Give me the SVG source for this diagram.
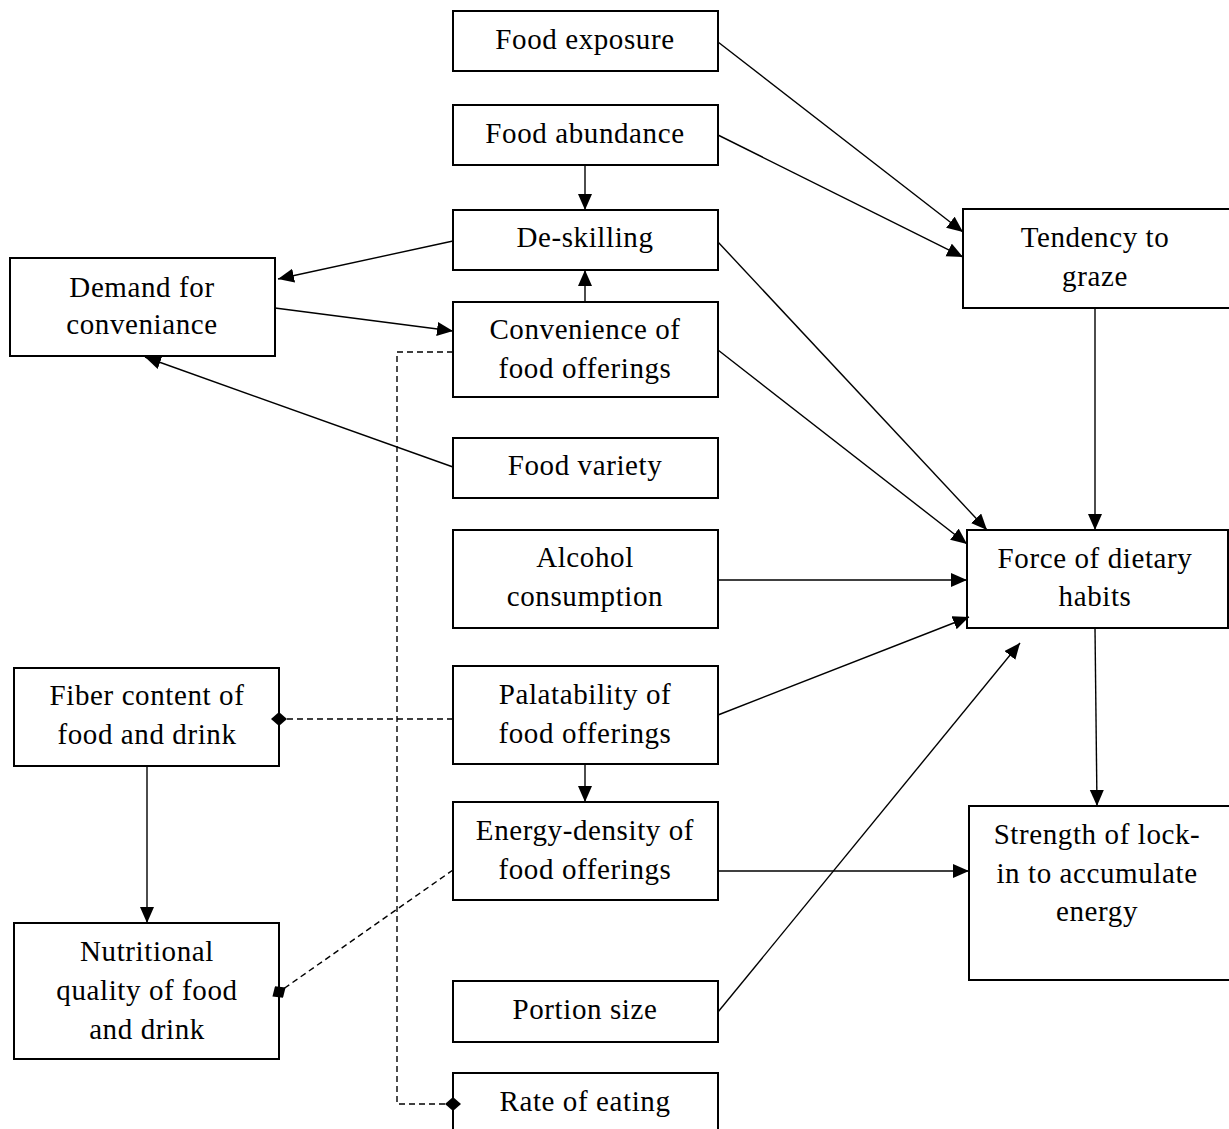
<svg xmlns="http://www.w3.org/2000/svg" width="1229" height="1129" viewBox="0 0 1229 1129">
<style>
.box{fill:#fff;stroke:#000;stroke-width:2}
.lbl{font-family:"Liberation Serif","Times New Roman",serif;font-size:29px;letter-spacing:0.6px;fill:#000;text-anchor:middle}
.c{fill:none;stroke:#000;stroke-width:1.4}
.d{fill:none;stroke:#000;stroke-width:1.4;stroke-dasharray:6 4}
</style>
<defs>
<marker id="arr" markerUnits="userSpaceOnUse" markerWidth="17" markerHeight="15" refX="16" refY="7" orient="auto"><path d="M0,0 L16,7 L0,14 z" fill="#000"/></marker>
<marker id="dia" markerUnits="userSpaceOnUse" markerWidth="17" markerHeight="14" refX="8" refY="7" orient="auto"><path d="M0,7 L8,0 L16,7 L8,14 z" fill="#000"/></marker>
</defs>
<rect width="1229" height="1129" fill="#fff"/>
<g id="food-exposure"><rect class="box" x="453" y="11" width="265" height="60"/><text class="lbl" x="585" y="49">Food exposure</text></g>
<g id="food-abundance"><rect class="box" x="453" y="105" width="265" height="60"/><text class="lbl" x="585" y="143">Food abundance</text></g>
<g id="de-skilling"><rect class="box" x="453" y="210" width="265" height="60"/><text class="lbl" x="585" y="247">De-skilling</text></g>
<g id="convenience"><rect class="box" x="453" y="302" width="265" height="95"/><text class="lbl" x="585" y="339">Convenience of</text><text class="lbl" x="585" y="378">food offerings</text></g>
<g id="food-variety"><rect class="box" x="453" y="438" width="265" height="60"/><text class="lbl" x="585" y="475">Food variety</text></g>
<g id="alcohol"><rect class="box" x="453" y="530" width="265" height="98"/><text class="lbl" x="585" y="567">Alcohol</text><text class="lbl" x="585" y="606">consumption</text></g>
<g id="palatability"><rect class="box" x="453" y="666" width="265" height="98"/><text class="lbl" x="585" y="704">Palatability of</text><text class="lbl" x="585" y="743">food offerings</text></g>
<g id="energy-density"><rect class="box" x="453" y="802" width="265" height="98"/><text class="lbl" x="585" y="840">Energy-density of</text><text class="lbl" x="585" y="879">food offerings</text></g>
<g id="portion-size"><rect class="box" x="453" y="981" width="265" height="61"/><text class="lbl" x="585" y="1019">Portion size</text></g>
<g id="rate-of-eating"><rect class="box" x="453" y="1073" width="265" height="70"/><text class="lbl" x="585" y="1111">Rate of eating</text></g>
<g id="demand"><rect class="box" x="10" y="258" width="265" height="98"/><text class="lbl" x="142" y="297">Demand for</text><text class="lbl" x="142" y="334">conveniance</text></g>
<g id="fiber"><rect class="box" x="14" y="668" width="265" height="98"/><text class="lbl" x="147" y="705">Fiber content of</text><text class="lbl" x="147" y="744">food and drink</text></g>
<g id="nutritional"><rect class="box" x="14" y="923" width="265" height="136"/><text class="lbl" x="147" y="961">Nutritional</text><text class="lbl" x="147" y="1000">quality of food</text><text class="lbl" x="147" y="1039">and drink</text></g>
<g id="tendency"><rect class="box" x="963" y="209" width="270" height="99"/><text class="lbl" x="1095" y="247">Tendency to</text><text class="lbl" x="1095" y="286">graze</text></g>
<g id="force"><rect class="box" x="967" y="530" width="261" height="98"/><text class="lbl" x="1095" y="568">Force of dietary</text><text class="lbl" x="1095" y="606">habits</text></g>
<g id="strength"><rect class="box" x="969" y="806" width="264" height="174"/><text class="lbl" x="1097" y="844">Strength of lock-</text><text class="lbl" x="1097" y="883">in to accumulate</text><text class="lbl" x="1097" y="921">energy</text></g>
<g id="connectors">
<line class="c" x1="718" y1="42" x2="963" y2="232" marker-end="url(#arr)"/>
<line class="c" x1="718" y1="135" x2="963" y2="257" marker-end="url(#arr)"/>
<line class="c" x1="585" y1="165" x2="585" y2="210" marker-end="url(#arr)"/>
<line class="c" x1="585" y1="302" x2="585" y2="270" marker-end="url(#arr)"/>
<line class="c" x1="453" y1="241" x2="278" y2="279" marker-end="url(#arr)"/>
<line class="c" x1="275" y1="308" x2="453" y2="331" marker-end="url(#arr)"/>
<line class="c" x1="453" y1="467" x2="145" y2="357" marker-end="url(#arr)"/>
<line class="c" x1="718" y1="242" x2="987" y2="530" marker-end="url(#arr)"/>
<line class="c" x1="718" y1="350" x2="967" y2="544" marker-end="url(#arr)"/>
<line class="c" x1="1095" y1="308" x2="1095" y2="530" marker-end="url(#arr)"/>
<line class="c" x1="718" y1="580" x2="967" y2="580" marker-end="url(#arr)"/>
<line class="c" x1="718" y1="715" x2="969" y2="617" marker-end="url(#arr)"/>
<line class="c" x1="718" y1="1012" x2="1020" y2="643" marker-end="url(#arr)"/>
<line class="c" x1="1095" y1="628" x2="1097" y2="806" marker-end="url(#arr)"/>
<line class="c" x1="718" y1="871" x2="969" y2="871" marker-end="url(#arr)"/>
<line class="c" x1="147" y1="766" x2="147" y2="923" marker-end="url(#arr)"/>
<line class="c" x1="585" y1="764" x2="585" y2="802" marker-end="url(#arr)"/>
<path class="d" d="M453,352 H397 V1104 H453" marker-end="url(#dia)"/>
<path class="d" d="M453,719 H279" marker-end="url(#dia)"/>
<path class="d" d="M453,870 L279,992" marker-end="url(#dia)"/>
</g>
</svg>
